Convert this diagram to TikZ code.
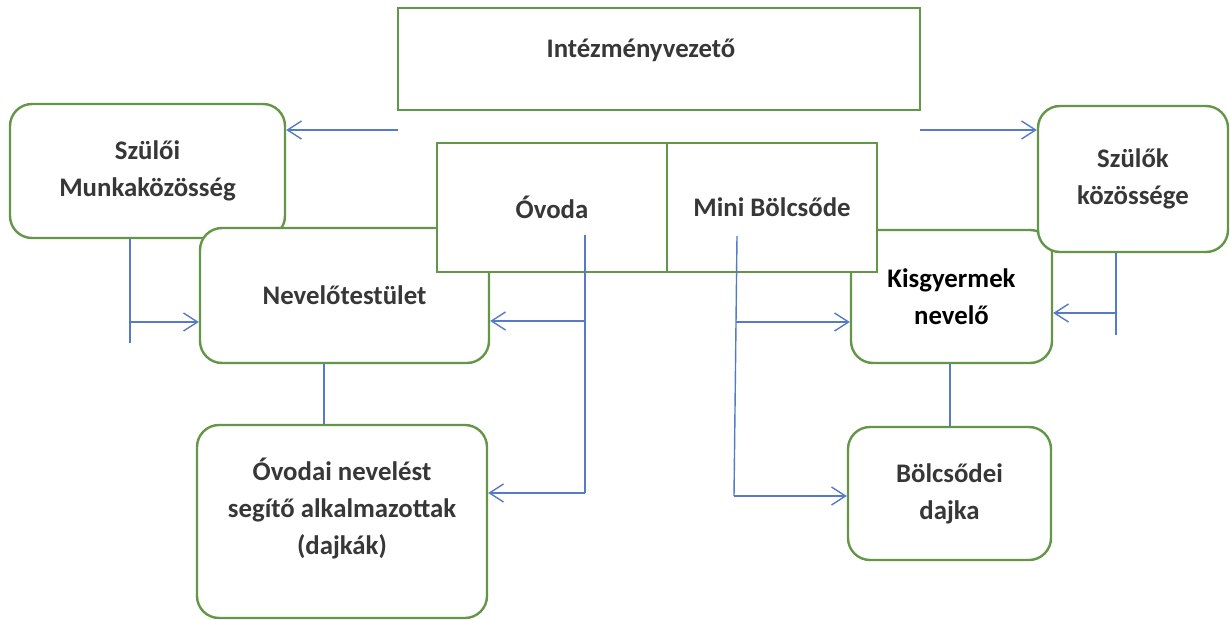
\documentclass[tikz,border=0pt]{standalone}
\usepackage{fontspec}
\setmainfont{Carlito}
\usetikzlibrary{arrows, arrows.meta}
\usetikzlibrary{calc}

\definecolor{boxgreen}{RGB}{100,150,72}
\definecolor{linkblue}{RGB}{84,122,200}
\definecolor{textgray}{RGB}{55,55,55}

\begin{document}
\begin{tikzpicture}[x=0.5pt, y=-0.5pt,
    box/.style={draw=boxgreen, line width=1.2pt, fill=white, rounded corners=11pt, inner sep=0pt,
      align=center, text=textgray, font=\bfseries\fontsize{13.4}{18.5}\selectfont},
    flatbox/.style={box, rounded corners=0pt},
    link/.style={draw=linkblue, line width=0.7pt},
    arr/.style={link, -{Straight Barb[length=7pt,width=9pt]}}]
      \useasboundingbox (0,0) rectangle (1230,620);

      \node[flatbox, minimum width=261pt, minimum height=51pt, text depth=10.5pt] (chief) at (659,59) {Intézményvezető\hspace*{18pt}};
      \node[box, minimum width=137.5pt, minimum height=67pt] (smk) at (147.5,171) {Szülői\\Munkaközösség};
      \node[box, minimum width=144.5pt, minimum height=67.5pt] (nt) at (344.5,295.5) {Nevelőtestület};
      \node[box, minimum width=145pt, minimum height=96.5pt, text depth=15pt] (ovd) at (342,521.5) {Óvodai nevelést\\segítő alkalmazottak\\(dajkák)};
      \node[box, minimum width=100.5pt, minimum height=66.5pt, text=black] (kgy) at (951.5,296.5) {Kisgyermek\\nevelő};
      \node[box, minimum width=101.5pt, minimum height=66.5pt] (bd) at (949.5,493.5) {Bölcsődei\\dajka};
      \node[box, minimum width=95pt, minimum height=73pt] (szk) at (1133,179) {Szülők\\közössége};
      \node[flatbox, minimum width=115pt, minimum height=64.5pt] (ovoda) at (552,207.5) {Óvoda};
      \node[flatbox, minimum width=105pt, minimum height=64.5pt] (mini) at (772,207.5) {Mini Bölcsőde};

      \coordinate (l1) at (398,130);
      \coordinate (r1) at (920,130);
      \draw[arr] (l1) -- (l1 -| smk.east);
      \draw[arr] (r1) -- (r1 -| szk.west);

      \coordinate (s1) at (130,322);
      \coordinate (s2) at (130,343);
      \draw[link] (s2 |- smk.south) -- (s2);
      \draw[arr] (s1) -- (s1 -| nt.west);

      \coordinate (o1) at (585,235);
      \coordinate (o2) at (585,321);
      \coordinate (o3) at (585,493);
      \draw[link] (o1) -- (o3);
      \draw[arr] (o2) -- (o2 -| nt.east);
      \draw[arr] (o3) -- (o3 -| ovd.east);

      \coordinate (m1) at (737,236);
      \coordinate (m2) at (736,322);
      \coordinate (m3) at (734,496);
      \draw[link] (m1) -- (m3);
      \draw[arr] (m2) -- (m2 -| kgy.west);
      \draw[arr] (m3) -- (m3 -| bd.west);

      \coordinate (k1) at (1116,335);
      \coordinate (k2) at (1116,313);
      \draw[link] (k1 |- szk.south) -- (k1);
      \draw[arr] (k2) -- (k2 -| kgy.east);

      \coordinate (n1) at (324,0);
      \coordinate (b1) at (950,0);
      \draw[link] (n1 |- nt.south) -- (n1 |- ovd.north);
      \draw[link] (b1 |- kgy.south) -- (b1 |- bd.north);
    \end{tikzpicture}
\end{document}
